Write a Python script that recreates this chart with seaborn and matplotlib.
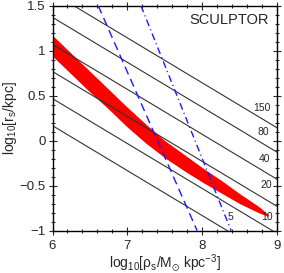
import numpy as np
import pandas as pd
import matplotlib
matplotlib.use("Agg")
import matplotlib.pyplot as plt
import seaborn as sns

# constant-Vmax lines (km/s): y read at x=6 and x=9
vmax_vals = [5, 10, 20, 40, 80, 150]
vmax_y6 = [0.167, 0.468, 0.769, 1.070, 1.371, 1.642]
vmax_y9 = [-1.333, -1.032, -0.731, -0.430, -0.129, 0.142]
vmax_lab_x = [8.37, 8.86, 8.85, 8.83, 8.82, 8.79]
vmax_lab_y = [-0.85, -0.85, -0.495, -0.203, 0.096, 0.365]

# red allowed band
band_x = [6.0, 6.25, 6.5, 6.75, 7.0, 7.25, 7.5, 7.75, 8.0, 8.25, 8.5, 8.75, 8.88]
band_up = [1.17, 0.97, 0.77, 0.57, 0.37, 0.18, 0.00, -0.15, -0.30, -0.44, -0.59, -0.73, -0.82]
band_lo = [0.94, 0.74, 0.54, 0.35, 0.15, -0.03, -0.19, -0.33, -0.46, -0.58, -0.70, -0.80, -0.84]

# blue limits
dash_x = [6.61, 7.93]
dash_y = [1.5, -1.0]
dashdot_x = [7.18, 8.384]
dashdot_y = [1.5, -1.0]

sns.set_style("ticks")
plt.rcParams['font.family'] = ['Liberation Sans', 'DejaVu Sans']
plt.rcParams['mathtext.fontset'] = 'custom'
plt.rcParams['mathtext.rm'] = 'Liberation Sans'
plt.rcParams['mathtext.it'] = 'Liberation Sans'
plt.rcParams['mathtext.default'] = 'regular'
plt.rcParams['lines.scale_dashes'] = False

fig = plt.figure(figsize=(2.84, 2.73), dpi=100)
ax = fig.add_axes([0.1849, 0.1549, 0.7915, 0.8242])

ax.fill_between(band_x, band_lo, band_up, color='#ff0000', lw=0, zorder=1)

lines = pd.DataFrame({
    'x': [6.0] * len(vmax_vals) + [9.0] * len(vmax_vals),
    'y': vmax_y6 + vmax_y9,
    'v': vmax_vals * 2,
})
sns.lineplot(data=lines, x='x', y='y', hue='v', palette=['#333333'] * len(vmax_vals),
             lw=0.8, legend=False, ax=ax, zorder=2)
for v, lx, ly in zip(vmax_vals, vmax_lab_x, vmax_lab_y):
    ax.text(lx, ly, str(v), fontsize=7.5, ha='center', va='center', zorder=4)

ax.plot(dash_x, dash_y, color='#1a1aff', lw=1.0, dashes=(6, 3.6), zorder=3)
ax.plot(dashdot_x, dashdot_y, color='#1a1aff', lw=1.0, dashes=(5, 2.5, 0.8, 2.5), zorder=3)

ax.text(8.89, 1.338, 'SCULPTOR', fontsize=10.5, ha='right', va='center')

ax.set_xlim(6, 9)
ax.set_ylim(-1, 1.5)
ax.set_xticks([6, 7, 8, 9])
ax.set_yticks([-1, -0.5, 0, 0.5, 1, 1.5])
ax.set_yticklabels(['\u22121', '\u22120.5', '0', '0.5', '1', '1.5'])
ax.set_xticks(np.arange(6, 9.01, 0.2), minor=True)
ax.set_yticks(np.arange(-1, 1.51, 0.1), minor=True)
ax.tick_params(which='both', direction='inout', top=True, right=True,
               width=0.8, labelsize=9.5)
ax.tick_params(axis='x', pad=4)
ax.tick_params(axis='y', pad=2)
ax.tick_params(which='major', length=6)
ax.tick_params(which='minor', length=3.5)
for s in ax.spines.values():
    s.set_linewidth(1.0)
    s.set_color('black')

ax.set_xlabel(r'log$_{10}$[$\rho_s$/M$_{\odot}$ kpc$^{-3}$]', fontsize=10, labelpad=0)
ax.set_ylabel(r'log$_{10}$[r$_s$/kpc]', fontsize=10)
ax.yaxis.set_label_coords(-0.15, 0.5)

fig.savefig('out.png', dpi=100)
